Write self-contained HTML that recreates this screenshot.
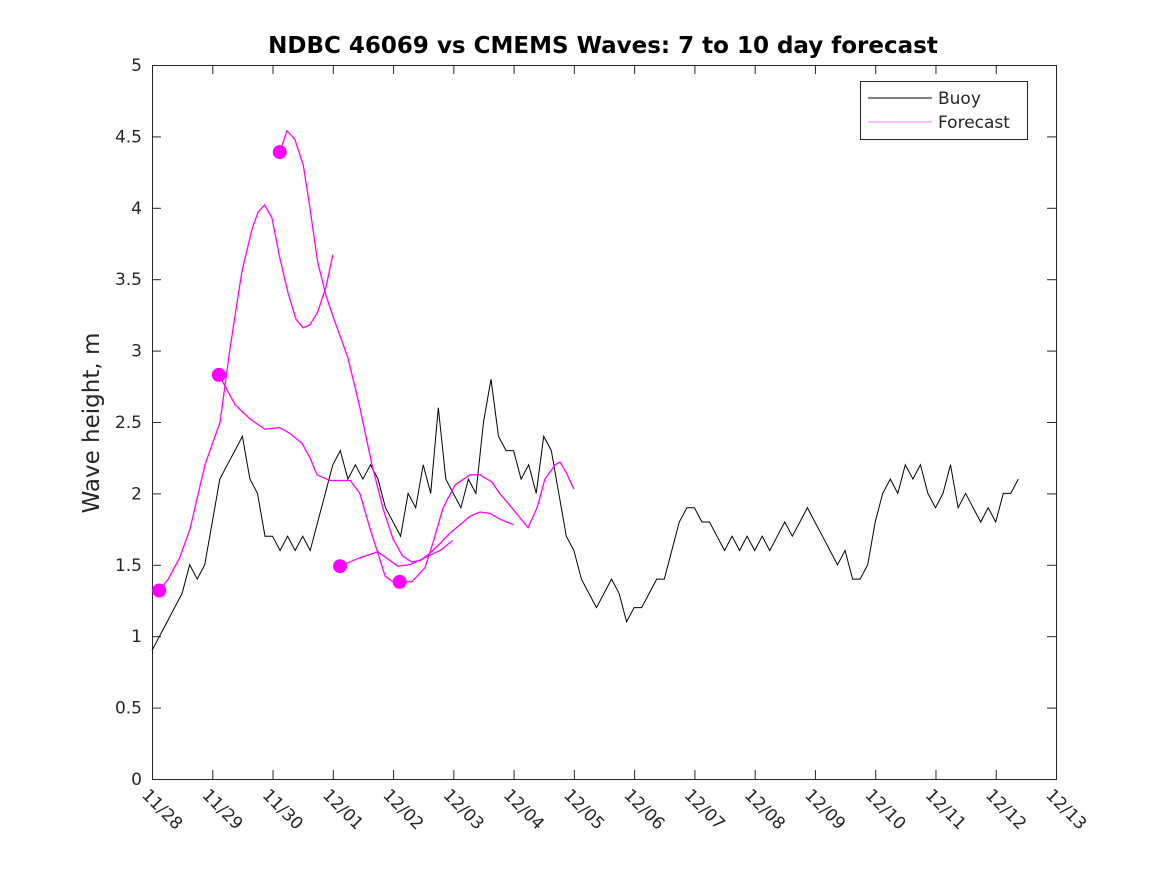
<!DOCTYPE html>
<html><head><meta charset="utf-8"><style>
body{margin:0;background:#fff;}
svg text{font-family:"DejaVu Sans","Liberation Sans",sans-serif;fill:#262626;}
</style></head><body>
<svg id="chart" width="1167" height="875" xmlns="http://www.w3.org/2000/svg">
<rect x="0" y="0" width="1167" height="875" fill="#fff"/>
<text x="603" y="53" text-anchor="middle" font-size="23" font-weight="bold" style="fill:#000">NDBC 46069 vs CMEMS Waves: 7 to 10 day forecast</text>
<text transform="translate(99,423) rotate(-90)" text-anchor="middle" font-size="23">Wave height, m</text>
<g id="axes"></g>
<g id="series"></g>
<g id="legend">
<rect x="860.5" y="81.5" width="167" height="58" fill="#fff" stroke="#262626" stroke-width="1"/>
<line x1="868" y1="98" x2="932" y2="98" stroke="#000" stroke-width="1"/>
<text x="938" y="104" font-size="17">Buoy</text>
<line x1="868" y1="122" x2="932" y2="122" stroke="#f0f" stroke-width="0.6"/>
<text x="938" y="128" font-size="17">Forecast</text>
</g>
</svg>
<script>
const xTickLabels=["11/28","11/29","11/30","12/01","12/02","12/03","12/04","12/05","12/06","12/07","12/08","12/09","12/10","12/11","12/12","12/13"];
const yTicks=[0,0.5,1,1.5,2,2.5,3,3.5,4,4.5,5];
const yTickLabels=["0","0.5","1","1.5","2","2.5","3","3.5","4","4.5","5"];
const buoyStepDays=0.125;
const buoyValues=[0.9,1.0,1.1,1.2,1.3,1.5,1.4,1.5,
1.8,2.1,2.2,2.3,2.4,2.1,2.0,1.7,
1.7,1.6,1.7,1.6,1.7,1.6,1.8,2.0,
2.2,2.3,2.1,2.2,2.1,2.2,2.1,1.9,
1.8,1.7,2.0,1.9,2.2,2.0,2.6,2.1,
2.0,1.9,2.1,2.0,2.5,2.8,2.4,2.3,
2.3,2.1,2.2,2.0,2.4,2.3,2.0,1.7,
1.6,1.4,1.3,1.2,1.3,1.4,1.3,1.1,
1.2,1.2,1.3,1.4,1.4,1.6,1.8,1.9,
1.9,1.8,1.8,1.7,1.6,1.7,1.6,1.7,
1.6,1.7,1.6,1.7,1.8,1.7,1.8,1.9,
1.8,1.7,1.6,1.5,1.6,1.4,1.4,1.5,
1.8,2.0,2.1,2.0,2.2,2.1,2.2,2.0,
1.9,2.0,2.2,1.9,2.0,1.9,1.8,1.9,
1.8,2.0,2.0,2.1];
const f1Days=[0.12,0.27,0.46,0.63,0.88,1.13,1.29,1.49,1.66,1.76,1.87,1.99,2.12,2.26,2.39,2.51,2.62,2.75,2.89,3.0];
const f1Vals=[1.32,1.4,1.55,1.75,2.2,2.5,3.0,3.55,3.85,3.97,4.02,3.93,3.65,3.4,3.22,3.16,3.18,3.27,3.45,3.67];
const f2Days=[1.11,1.38,1.63,1.87,2.12,2.29,2.49,2.62,2.74,2.95,3.29,3.45,3.62,3.87,4.0];
const f2Vals=[2.83,2.62,2.52,2.45,2.46,2.42,2.35,2.25,2.13,2.09,2.09,2.0,1.75,1.42,1.38];
const f3Days=[2.12,2.24,2.37,2.51,2.62,2.75,2.89,3.02,3.25,3.45,3.65,3.83,4.0,4.16,4.31,4.45,4.61,4.78,4.94,5.11,5.28,5.44,5.61,5.77,6.0];
const f3Vals=[4.39,4.54,4.48,4.3,4.0,3.62,3.38,3.22,2.95,2.6,2.2,1.9,1.68,1.56,1.52,1.53,1.58,1.65,1.72,1.78,1.84,1.87,1.86,1.82,1.78];
const f4Days=[3.12,3.45,3.75,4.08,4.28,4.53,4.78,4.99];
const f4Vals=[1.49,1.55,1.59,1.49,1.50,1.55,1.60,1.67];
const f5Days=[4.11,4.31,4.53,4.66,4.83,5.03,5.28,5.44,5.64,5.77,5.97,6.24,6.39,6.52,6.69,6.77,6.87,7.0];
const f5Vals=[1.38,1.38,1.48,1.65,1.9,2.06,2.13,2.13,2.08,2.0,1.9,1.76,1.9,2.1,2.2,2.22,2.15,2.03];

const NS="http://www.w3.org/2000/svg";
const L=152,R=1056,T=65,B=779;
const xMax=15,yMax=5;
function X(d){return L+d/xMax*(R-L);}
function Y(v){return B-v/yMax*(B-T);}
function mk(tag,attrs,parent){const e=document.createElementNS(NS,tag);for(const k in attrs)e.setAttribute(k,attrs[k]);parent.appendChild(e);return e;}
const axes=document.getElementById('axes');
const box=mk('rect',{x:L+0.5,y:T+0.5,width:R-L,height:B-T,fill:'none',stroke:'#262626','stroke-width':1},axes);


xTickLabels.forEach((lab,i)=>{
  const x=X(i)+0.5;
  mk('line',{x1:x,y1:B,x2:x,y2:B-9,stroke:'#262626'},axes);
  mk('line',{x1:x,y1:T,x2:x,y2:T+9,stroke:'#262626'},axes);
  const t=mk('text',{transform:`translate(${X(i)-11},${B+17}) rotate(45)`,'font-size':17},axes);
  t.textContent=lab;
  
  
});
yTicks.forEach((v,i)=>{
  const y=Y(v)+0.5;
  mk('line',{x1:L,y1:y,x2:L+9,y2:y,stroke:'#262626'},axes);
  mk('line',{x1:R,y1:y,x2:R-9,y2:y,stroke:'#262626'},axes);
  const t=mk('text',{x:L-10,y:Y(v)+6,'text-anchor':'end','font-size':17},axes);
  t.textContent=yTickLabels[i];
  
  
});
const series=document.getElementById('series');
let d='';
buoyValues.forEach((v,i)=>{const x=X(i*buoyStepDays),y=Y(v);d+=(i?'L':'M')+x.toFixed(1)+' '+y.toFixed(1);});
const bp=mk('path',{d:d,fill:'none',stroke:'#000','stroke-width':1},series);


const fc=[[f1Days,f1Vals],[f2Days,f2Vals],[f3Days,f3Vals],[f4Days,f4Vals],[f5Days,f5Vals]];
fc.forEach((f,k)=>{
  let p='';
  f[0].forEach((dd,i)=>{p+=(i?'L':'M')+X(dd).toFixed(1)+' '+Y(f[1][i]).toFixed(1);});
  const e=mk('path',{d:p,fill:'none',stroke:'#f0f','stroke-width':1.3},series);
  
  
  const c=mk('circle',{cx:X(f[0][0]),cy:Y(f[1][0]),r:7,fill:'#f0f'},series);
  
  
});
</script>
</body></html>
